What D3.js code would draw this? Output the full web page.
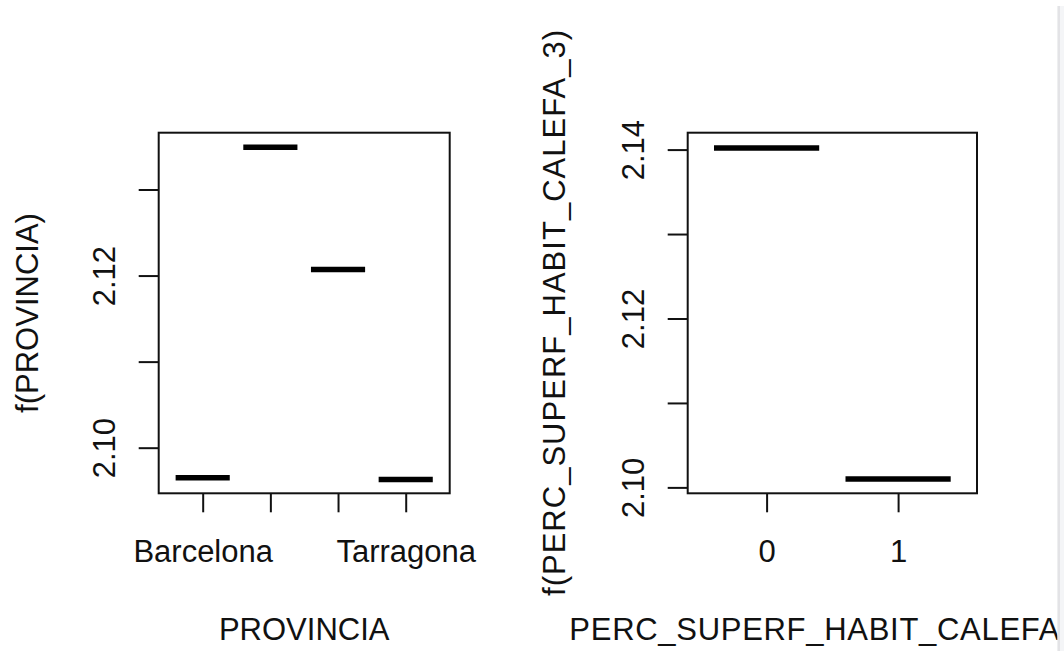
<!DOCTYPE html>
<html>
<head>
<meta charset="utf-8">
<script src="https://cdn.jsdelivr.net/npm/d3@7"></script>
<style>
  html, body { margin: 0; padding: 0; background: #fff; }
  svg { display: block; }
  text { font-family: "Liberation Sans", Arial, sans-serif; font-size: 31px; fill: #111; }
</style>
</head>
<body>
<svg id="chart" width="1064" height="651"></svg>
<script>
// ---- data ----
const provCategories = ["Barcelona", "Girona", "Lleida", "Tarragona"];
const provValues = [2.0965, 2.1349, 2.1207, 2.0963];
const provTickLabels = ["Barcelona", "", "", "Tarragona"];
const provYLim = [2.0947, 2.1366];
const provYTicks = [2.10, 2.11, 2.12, 2.13];
const provYLabels = ["2.10", "", "2.12", ""];

const calefaCategories = ["0", "1"];
const calefaValues = [2.1402, 2.1010];
const calefaTickLabels = ["0", "1"];
const calefaYLim = [2.0993, 2.1420];
const calefaYTicks = [2.10, 2.11, 2.12, 2.13, 2.14];
const calefaYLabels = ["2.10", "", "2.12", "", "2.14"];

const svg = d3.select("#chart");

function panel(opts) {
  const { left, right, top, bottom, cats, vals, tickLabels, yLim, yTicks, yLabels,
          xTitle, yTitle, yTitleX, yLabelX, xTitleLen, yTitleLen } = opts;
  const n = cats.length;
  const x = d3.scaleLinear().domain([1 - opts.xPad, n + opts.xPad]).range([left, right]);
  const y = d3.scaleLinear().domain(yLim).range([bottom, top]);
  const g = svg.append("g");

  // segments
  g.selectAll("line.seg").data(vals).enter().append("line")
    .attr("class", "seg")
    .attr("x1", (d, i) => x(i + 1 - 0.4))
    .attr("x2", (d, i) => x(i + 1 + 0.4))
    .attr("y1", d => y(d)).attr("y2", d => y(d))
    .attr("stroke", "#000").attr("stroke-width", 5.5);

  // box
  g.append("rect").attr("x", left).attr("y", top)
    .attr("width", right - left).attr("height", bottom - top)
    .attr("fill", "none").attr("stroke", "#111").attr("stroke-width", 2);

  // y axis
  const ya = g.append("g").attr("transform", `translate(${left},0)`)
    .call(d3.axisLeft(y).tickValues(yTicks).tickSize(20).tickFormat((d, i) => yLabels[i]));
  ya.select(".domain").remove();
  ya.selectAll(".tick line").attr("stroke", "#111").attr("stroke-width", 2);
  ya.selectAll(".tick text")
    .attr("transform", "rotate(-90)")
    .attr("x", 0).attr("y", yLabelX - left).attr("dy", 0)
    .attr("text-anchor", "middle")
    .style("font-size", "31px").style("font-family", "Liberation Sans, Arial, sans-serif").attr("fill", "#111");

  // x axis
  const xa = g.append("g").attr("transform", `translate(0,${bottom})`)
    .call(d3.axisBottom(x).tickValues(d3.range(1, n + 1)).tickSize(19).tickFormat((d, i) => tickLabels[i]));
  xa.select(".domain").remove();
  xa.selectAll(".tick line").attr("stroke", "#111").attr("stroke-width", 2);
  xa.selectAll(".tick text").attr("y", 69).attr("dy", 0)
    .style("font-size", "31px").style("font-family", "Liberation Sans, Arial, sans-serif").attr("fill", "#111");

  // titles
  const cx = (left + right) / 2, cy = (top + bottom) / 2;
  const xt = g.append("text").attr("x", cx).attr("y", 640).attr("text-anchor", "middle").text(xTitle);
  if (xTitleLen) xt.attr("textLength", xTitleLen).attr("lengthAdjust", "spacing");
  const yt = g.append("text").attr("transform", `translate(${yTitleX},${cy}) rotate(-90)`)
    .attr("text-anchor", "middle").text(yTitle);
  if (yTitleLen) yt.attr("textLength", yTitleLen).attr("lengthAdjust", "spacing");
}

panel({
  left: 158.7, right: 449.7, top: 132.7, bottom: 493.3, xPad: 0.65,
  cats: provCategories, vals: provValues, tickLabels: provTickLabels,
  yLim: provYLim, yTicks: provYTicks, yLabels: provYLabels,
  xTitle: "PROVINCIA", yTitle: "f(PROVINCIA)", yTitleX: 37.5, yLabelX: 115
});

panel({
  left: 687.7, right: 977, top: 132.7, bottom: 493.3, xPad: 0.6,
  cats: calefaCategories, vals: calefaValues, tickLabels: calefaTickLabels,
  yLim: calefaYLim, yTicks: calefaYTicks, yLabels: calefaYLabels,
  xTitle: "PERC_SUPERF_HABIT_CALEFA_3", yTitle: "f(PERC_SUPERF_HABIT_CALEFA_3)",
  yTitleX: 565, yLabelX: 644, xTitleLen: 526, yTitleLen: 566
});

// viewer edge strip on the right
svg.append("rect").attr("x", 1057.5).attr("y", 6).attr("width", 6.5).attr("height", 645).attr("fill", "#f4f5f7");
svg.append("rect").attr("x", 1057.5).attr("y", 6).attr("width", 2.5).attr("height", 645).attr("fill", "#e3e3e6");
</script>
</body>
</html>
